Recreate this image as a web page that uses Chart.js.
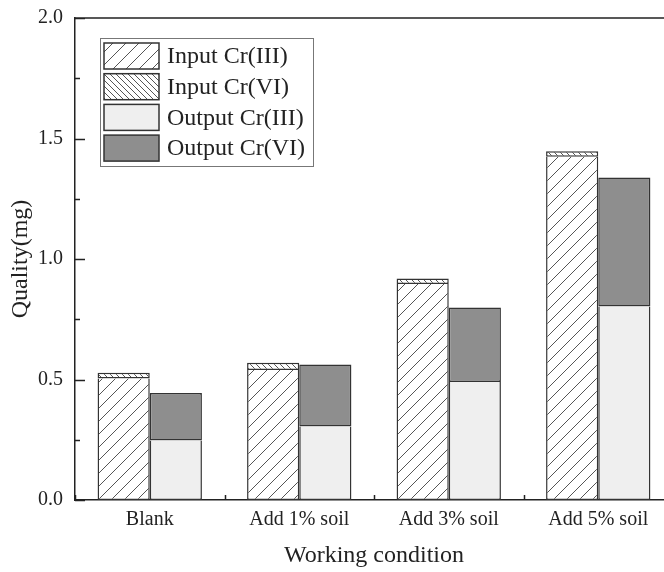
<!DOCTYPE html>
<html>
<head>
<meta charset="utf-8">
<script src="https://cdn.jsdelivr.net/npm/chart.js@4.4.1/dist/chart.umd.min.js"></script>
<style>
  html, body { margin: 0; padding: 0; background: #fff; overflow: hidden; }
  #wrap { position: absolute; left: 0; top: 0; width: 700px; height: 572px; }
</style>
</head>
<body>
<div id="wrap"><canvas id="chart" width="700" height="572"></canvas></div>
<script>
// Chromium mass (mg) for each working condition
const categories = ['Blank', 'Add 1% soil', 'Add 3% soil', 'Add 5% soil'];
const inputCr3  = [0.504, 0.539, 0.896, 1.424];
const inputCr6  = [0.024, 0.030, 0.023, 0.023];
const outputCr3 = [0.247, 0.305, 0.490, 0.803];
const outputCr6 = [0.197, 0.257, 0.309, 0.535];
const seriesNames = ['Input Cr(III)', 'Input Cr(VI)', 'Output Cr(III)', 'Output Cr(VI)'];
const yTicks = [0, 0.5, 1.0, 1.5, 2.0];

const SERIF = '"Liberation Serif", "Times New Roman", serif';
const INK = '#222';

// Diagonal hatch tile: dir 1 = "/", dir -1 = "\"
function hatch(size, dir, color, width) {
  const c = document.createElement('canvas');
  c.width = size; c.height = size;
  const g = c.getContext('2d');
  g.fillStyle = '#fff';
  g.fillRect(0, 0, size, size);
  g.strokeStyle = color;
  g.lineWidth = width;
  g.beginPath();
  for (let k = -1; k <= 1; k++) {
    const o = k * size;
    if (dir > 0) { g.moveTo(o - 1, size + 1); g.lineTo(o + size + 1, -1); }
    else { g.moveTo(o - 1, -1); g.lineTo(o + size + 1, size + 1); }
  }
  g.stroke();
  return g.createPattern(c, 'repeat');
}

const ctx = document.getElementById('chart').getContext('2d');
const fills = [
  hatch(13, 1, '#555', 1),
  hatch(6, -1, '#555', 1),
  '#efefef',
  '#8e8e8e'
];
// lower segment leaves its top edge to the segment stacked above it
const lowerEdge = { top: 0, left: 1.5, right: 1.5, bottom: 1.5 };
const upperEdge = 1.5;

// Inward tick marks, top frame line and the boxed legend
const decorations = {
  id: 'decorations',
  afterDatasetsDraw(chart) {
    const { ctx, chartArea: a, scales } = chart;
    const y = scales.y, x = scales.x;
    ctx.save();
    ctx.strokeStyle = INK;
    ctx.lineWidth = 1.5;
    ctx.beginPath();
    ctx.moveTo(a.left, a.top);
    ctx.lineTo(a.right + 2, a.top);
    // y ticks: majors every 0.5, minors halfway between
    for (let v = 0; v <= 2.0001; v += 0.25) {
      const py = Math.round(y.getPixelForValue(v)) + 0.5;
      const len = (Math.abs(v * 2 - Math.round(v * 2)) < 1e-6) ? 10 : 5;
      ctx.moveTo(a.left, py);
      ctx.lineTo(a.left + len, py);
    }
    // x ticks between categories
    for (let i = 0; i <= categories.length; i++) {
      const px = Math.round(x.getPixelForValue(i - 0.5)) + 0.5;
      ctx.moveTo(px, a.bottom);
      ctx.lineTo(px, a.bottom - 5);
    }
    ctx.stroke();

    // legend
    const L = { x: 100, y: 38, w: 213, h: 128 };
    ctx.fillStyle = '#fff';
    ctx.fillRect(L.x, L.y, L.w, L.h);
    ctx.strokeStyle = '#777';
    ctx.lineWidth = 1;
    ctx.strokeRect(L.x + 0.5, L.y + 0.5, L.w, L.h);
    ctx.font = '24px ' + SERIF;
    ctx.textBaseline = 'middle';
    ctx.textAlign = 'left';
    chart.data.datasets.forEach((ds, i) => {
      const ry = 43 + i * 30.7;
      ctx.fillStyle = ds.backgroundColor;
      ctx.fillRect(104, ry, 55, 26);
      ctx.strokeStyle = '#333';
      ctx.lineWidth = 1.5;
      ctx.strokeRect(104, ry, 55, 26);
      ctx.fillStyle = INK;
      ctx.fillText(ds.label, 167, ry + 14);
    });
    ctx.restore();
  }
};

new Chart(ctx, {
  type: 'bar',
  data: {
    labels: categories,
    datasets: [
      { label: seriesNames[0], data: inputCr3,  stack: 'input',  backgroundColor: fills[0], borderWidth: lowerEdge },
      { label: seriesNames[1], data: inputCr6,  stack: 'input',  backgroundColor: fills[1], borderWidth: upperEdge },
      { label: seriesNames[2], data: outputCr3, stack: 'output', backgroundColor: fills[2], borderWidth: lowerEdge },
      { label: seriesNames[3], data: outputCr6, stack: 'output', backgroundColor: fills[3], borderWidth: upperEdge }
    ].map(d => Object.assign(d, {
      borderColor: '#333',
      borderSkipped: false,
      categoryPercentage: 0.698,
      barPercentage: 1.0
    }))
  },
  options: {
    responsive: false,
    animation: false,
    events: [],
    layout: { padding: { top: 18, right: 27, left: 0, bottom: 0 } },
    plugins: { legend: { display: false }, tooltip: { enabled: false } },
    scales: {
      x: {
        stacked: true,
        grid: { display: false, drawTicks: false },
        border: { display: true, color: INK, width: 1.5 },
        ticks: { color: INK, font: { family: SERIF, size: 20 }, padding: 8, maxRotation: 0 },
        title: { display: true, text: 'Working condition', color: INK,
                 font: { family: SERIF, size: 24 }, padding: { top: 0, bottom: 2 } },
        afterFit(s) { s.height = 72; s.paddingLeft = 0; s.paddingRight = 0; }
      },
      y: {
        stacked: true,
        min: 0, max: 2.0,
        afterBuildTicks(s) { s.ticks = yTicks.map(v => ({ value: v })); },
        grid: { display: false, drawTicks: false },
        border: { display: true, color: INK, width: 1.5 },
        ticks: { color: INK, font: { family: SERIF, size: 20 }, padding: 12,
                 callback: v => Number(v).toFixed(1) },
        title: { display: true, text: 'Quality(mg)', color: INK,
                 font: { family: SERIF, size: 24 }, padding: { top: 6, bottom: 0 } },
        afterFit(s) { s.width = 75; s.paddingTop = 0; s.paddingBottom = 0; }
      }
    }
  },
  plugins: [decorations]
});
</script>
</body>
</html>
